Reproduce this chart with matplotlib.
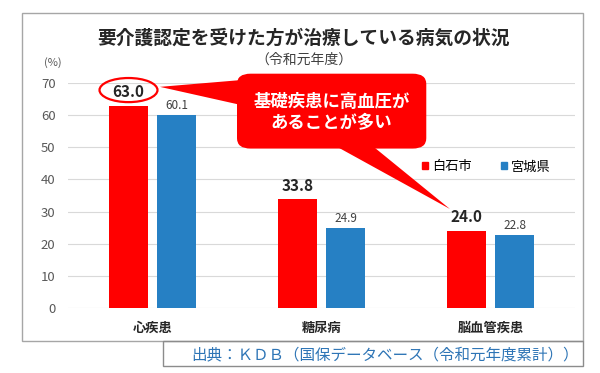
import matplotlib
matplotlib.use('Agg')
import matplotlib.pyplot as plt
from matplotlib.patches import Ellipse, FancyBboxPatch, Polygon, Patch, Rectangle
import numpy as np

plt.rcParams['font.family'] = ['Noto Sans CJK JP', 'DejaVu Sans']

categories = ['心疾患', '糖尿病', '脳血管疾患']
shiroishi = [63.0, 33.8, 24.0]
miyagi = [60.1, 24.9, 22.8]
series_names = ['白石市', '宮城県']
yticks = [0, 10, 20, 30, 40, 50, 60, 70]

RED = '#ff0000'
BLUE = '#2680c4'

fig = plt.figure(figsize=(6.0, 3.73), dpi=100)
W, H = 600, 373

def fx(px):
    return px / W

def fy(py):
    return 1 - py / H

# outer frame and source box
fig.patches.append(Rectangle((fx(22), fy(341)), fx(583) - fx(22), fy(13) - fy(341),
                             transform=fig.transFigure, fill=False, ec='#a6a6a6', lw=1.0))
fig.patches.append(Rectangle((fx(163), fy(366)), fx(583) - fx(163), fy(341) - fy(366),
                             transform=fig.transFigure, fill=False, ec='#8c8c8c', lw=1.0))
fig.text(fx(385), fy(355), '出典：ＫＤＢ（国保データベース（令和元年度累計））',
         ha='center', va='center', fontsize=11.2, color='#2e75b6')

fig.text(fx(303), fy(38), '要介護認定を受けた方が治療している病気の状況',
         ha='center', va='center', fontsize=13.5, fontweight='bold', color='#262626')
fig.text(fx(304), fy(60), '（令和元年度）', ha='center', va='center',
         fontsize=10, color='#404040')
fig.text(fx(53), fy(63), '(%)', ha='center', va='center', fontsize=8, color='#595959')

ax = fig.add_axes([fx(68), fy(308), fx(575) - fx(68), fy(83) - fy(308)])
x = np.arange(len(categories))
bw = 0.225
off = 0.142
ax.bar(x - off, shiroishi, bw, color=RED, label=series_names[0], zorder=3)
ax.bar(x + off, miyagi, bw, color=BLUE, label=series_names[1], zorder=3)

ax.set_xlim(-0.5, len(categories) - 0.5)
ax.set_ylim(0, 70)
ax.set_yticks(yticks)
ax.set_yticklabels([str(t) for t in yticks], fontsize=9.5, color='#595959')
ax.set_xticks(x)
ax.set_xticklabels(categories, fontsize=9.5, fontweight='bold', color='#262626')
ax.tick_params(length=0, axis='both')
ax.tick_params(axis='y', pad=9)
ax.tick_params(axis='x', pad=9)
ax.grid(axis='y', color='#d9d9d9', lw=0.8, zorder=0)
for s in ax.spines.values():
    s.set_visible(False)

for xi, v in zip(x, shiroishi):
    ax.annotate(f'{v:.1f}', (xi - off, v), xytext=(0, 4), textcoords='offset points',
                ha='center', va='bottom', fontsize=11, fontweight='bold',
                color='#262626', annotation_clip=False)
for xi, v in zip(x, miyagi):
    ax.annotate(f'{v:.1f}', (xi + off, v), xytext=(0, 2), textcoords='offset points',
                ha='center', va='bottom', fontsize=8.5, color='#404040',
                annotation_clip=False)

# ellipse around the highest value
ax.add_patch(Ellipse((x[0] - off, shiroishi[0] + 4.8), 0.343, 7.5, fill=False,
                     ec=RED, lw=1.6, clip_on=False, zorder=5))

# callout
box = FancyBboxPatch((0.56, 52.0), 1.0, 18.5,
                     boxstyle='round,pad=0.06,rounding_size=0.08',
                     mutation_aspect=40, fc=RED, ec='none', clip_on=False, zorder=6)
ax.add_patch(box)
ax.add_patch(Polygon([(0.52, 70.9), (0.52, 63.2), (0.044, 68.8)], closed=True,
                     fc=RED, ec='none', clip_on=False, zorder=6))
ax.add_patch(Polygon([(1.08, 50.5), (1.30, 50.5), (1.76, 30.8)], closed=True,
                     fc=RED, ec='none', clip_on=False, zorder=6))
ax.text(1.06, 64.0, '基礎疾患に高血圧が', ha='center', va='center', fontsize=12.5,
        fontweight='bold', color='white', zorder=7)
ax.text(1.06, 57.6, 'あることが多い', ha='center', va='center', fontsize=12.5,
        fontweight='bold', color='white', zorder=7)

handles = [Patch(color=RED), Patch(color=BLUE)]
ax.legend(handles, series_names, loc='center', bbox_to_anchor=(0.825, 0.627), ncol=2,
          frameon=False, fontsize=9.5, handlelength=0.45, handleheight=0.45,
          handletextpad=0.3, columnspacing=2.2)

fig.savefig('out.png', dpi=100, facecolor='white')
